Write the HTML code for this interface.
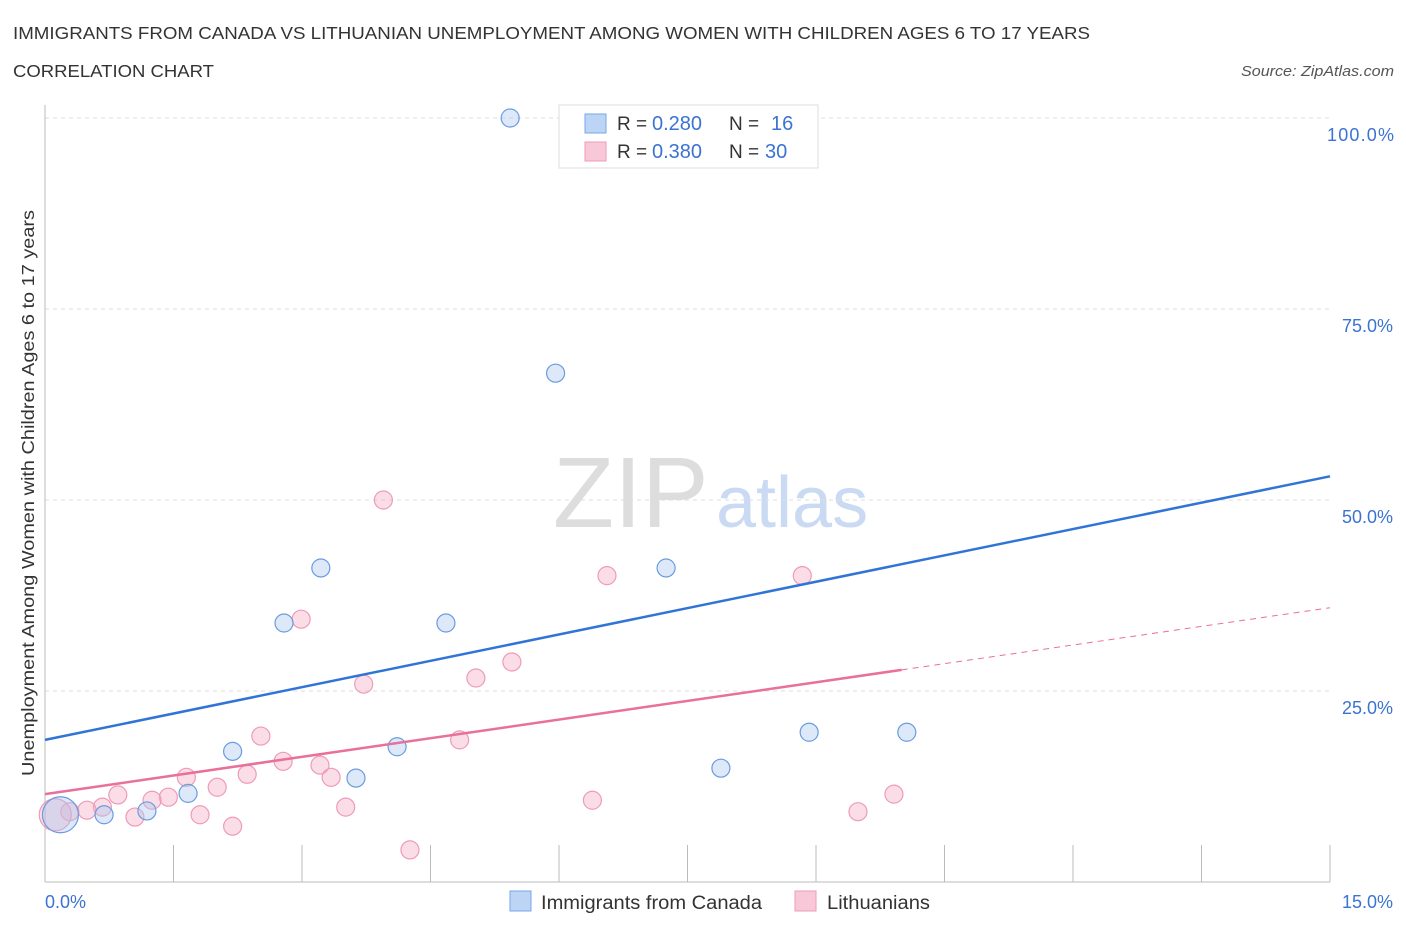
<!DOCTYPE html>
<html><head><meta charset="utf-8"><style>
body{margin:0;background:#fff;font-family:"Liberation Sans",sans-serif;}
svg text{font-family:"Liberation Sans",sans-serif;}
</style></head><body>
<svg id="chart" width="1406" height="930" xmlns="http://www.w3.org/2000/svg">
<text x="13" y="39" font-size="17.5" fill="#333" textLength="1077" lengthAdjust="spacingAndGlyphs">IMMIGRANTS FROM CANADA VS LITHUANIAN UNEMPLOYMENT AMONG WOMEN WITH CHILDREN AGES 6 TO 17 YEARS</text>
<text x="13" y="77" font-size="17.5" fill="#333" textLength="201" lengthAdjust="spacingAndGlyphs">CORRELATION CHART</text>
<text x="1241" y="76" font-size="15" fill="#555" font-style="italic" textLength="153" lengthAdjust="spacingAndGlyphs">Source: ZipAtlas.com</text>
<text x="553" y="527" font-size="100" fill="#ddd" font-family="Liberation Serif">ZIP</text>
<text x="716" y="527" font-size="72" fill="#c9daf2">atlas</text>
<g id="grid"></g>
<g id="axes"></g>
<g id="marks"></g>
<text transform="translate(34,493) rotate(-90)" font-size="17.5" fill="#333" text-anchor="middle" textLength="566" lengthAdjust="spacingAndGlyphs">Unemployment Among Women with Children Ages 6 to 17 years</text>
<text x="45" y="908" font-size="18" fill="#3b73d1">0.0%</text>
<text x="1393" y="908" font-size="18" fill="#3b73d1" text-anchor="end">15.0%</text>
<g>
<rect x="559" y="105" width="259" height="63" fill="#fff" stroke="#ddd"/>
<rect x="585" y="114" width="21" height="19" fill="#bcd5f5" stroke="#7aa6e6"/>
<rect x="585" y="142" width="21" height="19" fill="#f9c8d8" stroke="#ee9bb7"/>
<text x="617" y="130" font-size="19" fill="#333">R =</text><text x="652" y="130" font-size="20" fill="#3b73d1">0.280</text>
<text x="729" y="130" font-size="19" fill="#333">N =</text><text x="771" y="130" font-size="20" fill="#3b73d1">16</text>
<text x="617" y="158" font-size="19" fill="#333">R =</text><text x="652" y="158" font-size="20" fill="#3b73d1">0.380</text>
<text x="729" y="158" font-size="19" fill="#333">N =</text><text x="765" y="158" font-size="20" fill="#3b73d1">30</text>
</g>
<g>
<rect x="510" y="891" width="21" height="20" fill="#bcd5f5" stroke="#7aa6e6"/>
<text x="541" y="909" font-size="19" fill="#333" textLength="221" lengthAdjust="spacingAndGlyphs">Immigrants from Canada</text>
<rect x="795" y="891" width="21" height="20" fill="#f9c8d8" stroke="#ee9bb7"/>
<text x="827" y="909" font-size="19" fill="#333" textLength="103" lengthAdjust="spacingAndGlyphs">Lithuanians</text>
</g>
</svg>
<script>
const yTicks=[25,50,75,100];
const yTickLabels=["25.0%","50.0%","75.0%","100.0%"];
const blueX=[5.43,5.96,3.22,7.25,2.79,4.68,2.19,4.11,3.63,8.92,10.06,7.89,1.67,1.19,0.69,0.18];
const blueY=[100,66.6,41.1,41.1,33.9,33.9,17.1,17.7,13.6,19.6,19.6,14.9,11.6,9.3,8.8,8.8];
const pinkX=[3.95,6.56,8.84,2.99,5.45,3.72,5.03,2.52,4.84,2.78,3.21,1.65,2.36,3.34,2.01,0.85,1.44,1.25,9.91,6.39,3.51,0.67,0.49,1.81,1.05,2.19,9.49,4.26,0.29,0.12];
const pinkY=[50,40.1,40.1,34.4,28.8,25.9,26.7,19.1,18.6,15.8,15.3,13.7,14.1,13.7,12.4,11.4,11.1,10.7,11.5,10.7,9.8,9.8,9.4,8.8,8.5,7.3,9.2,4.2,9.2,8.8];
const blueTrend=[18.6,53.1];
const pinkTrend=[11.5,35.9];
const pinkSolidEnd=10.0;
const X=v=>45+v*(1285/15);
const Y=v=>882-v*7.64;
const NS="http://www.w3.org/2000/svg";
function mk(tag,attrs,parent){const e=document.createElementNS(NS,tag);for(const k in attrs)e.setAttribute(k,attrs[k]);document.getElementById(parent).appendChild(e);return e;}
yTicks.forEach((t,i)=>{
 const l=mk('line',{x1:45,x2:1330,y1:Y(t),y2:Y(t),stroke:'#ddd','stroke-dasharray':'4,4'},'grid');
 
 
 const tx=mk('text',{x:1393,y:Y(t)+23,'font-size':18,fill:'#3b73d1','text-anchor':'end'},'grid');
 tx.textContent=yTickLabels[i];
 
 
 if(t===100){tx.setAttribute('x',1394);tx.setAttribute('textLength',67);}
});
const ax=mk('line',{x1:45,x2:1330,y1:882,y2:882,stroke:'#bbb'},'axes');


const ay=mk('line',{x1:45,x2:45,y1:105,y2:882,stroke:'#bbb'},'axes');


for(let i=1;i<=10;i++){
 const t=mk('line',{x1:X(i*1.5),x2:X(i*1.5),y1:845,y2:882,stroke:'#bbb'},'axes');
 
 
}
pinkX.forEach((x,i)=>{
 const r=(i===pinkX.length-1)?16:9;
 const c=mk('circle',{cx:X(x),cy:Y(pinkY[i]),r:r,fill:'rgba(246,170,196,0.4)',stroke:'#ee9bb7','stroke-width':1.2},'marks');
 
 
});
blueX.forEach((x,i)=>{
 const r=(i===blueX.length-1)?18:9;
 const c=mk('circle',{cx:X(x),cy:Y(blueY[i]),r:r,fill:'rgba(170,200,240,0.4)',stroke:'#6a9be0','stroke-width':1.2},'marks');
 
 
});
const bl=mk('line',{x1:X(0),y1:Y(blueTrend[0]),x2:X(15),y2:Y(blueTrend[1]),stroke:'#2f74d6','stroke-width':2.5},'marks');


const pm=pinkTrend[0]+(pinkTrend[1]-pinkTrend[0])*pinkSolidEnd/15;
const pl=mk('line',{x1:X(0),y1:Y(pinkTrend[0]),x2:X(pinkSolidEnd),y2:Y(pm),stroke:'#e8709a','stroke-width':2.5},'marks');


const pd=mk('line',{x1:X(pinkSolidEnd),y1:Y(pm),x2:X(15),y2:Y(pinkTrend[1]),stroke:'#e8709a','stroke-width':1,'stroke-dasharray':'6,5'},'marks');


</script>
</body></html>
